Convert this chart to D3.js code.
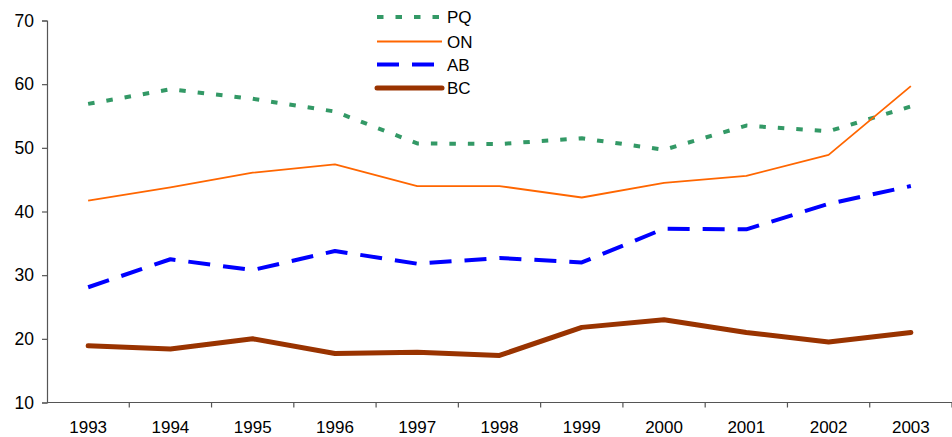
<!DOCTYPE html>
<html>
<head>
<meta charset="utf-8">
<script src="https://cdn.jsdelivr.net/npm/d3@7"></script>
<style>
  html, body { margin: 0; padding: 0; background: #fff; }
  svg { display: block; font-family: "Liberation Sans", Arial, sans-serif; }
</style>
</head>
<body>
<svg id="chart" width="952" height="437"></svg>
<script>
// Category labels and series values (percent)
const years = ["1993","1994","1995","1996","1997","1998","1999","2000","2001","2002","2003"];
const pq = [56.9, 59.2, 57.7, 55.7, 50.7, 50.6, 51.5, 49.7, 53.5, 52.6, 56.5];
const on = [41.7, 43.8, 46.1, 47.4, 44.0, 44.0, 42.2, 44.5, 45.6, 48.9, 59.7];
const ab = [28.1, 32.5, 30.8, 33.8, 31.8, 32.7, 32.0, 37.3, 37.2, 41.2, 44.0];
const bc = [18.9, 18.4, 20.0, 17.7, 17.9, 17.4, 21.8, 23.0, 21.0, 19.5, 21.0];
const yTicks = [10, 20, 30, 40, 50, 60, 70];

const seriesList = [
  { name: "PQ", values: pq, color: "#339966", width: 4, dash: "6.5,12", cap: "butt" },
  { name: "ON", values: on, color: "#FF6600", width: 1.8, dash: null, cap: "butt" },
  { name: "AB", values: ab, color: "#0000FF", width: 4, dash: "22,13", cap: "butt" },
  { name: "BC", values: bc, color: "#993300", width: 5, dash: null, cap: "round" }
];

(function drawChart() {
  const svg = d3.select("#chart");
  const plotLeft = 47, plotRight = 952, plotTop = 20.5, plotBottom = 402.5;
  const fontSize = 17;

  const x = d3.scaleBand().domain(years).range([plotLeft, plotRight]).paddingInner(0).paddingOuter(0);
  const y = d3.scaleLinear().domain([10, 70]).range([plotBottom, plotTop]);

  const axisColor = "#555";

  // Y axis
  const yAxis = svg.append("g")
    .attr("transform", `translate(${plotLeft},0)`)
    .call(d3.axisLeft(y).tickValues(yTicks).tickSize(5).tickPadding(8));
  yAxis.selectAll("path, line").attr("stroke", axisColor).attr("stroke-width", 1.2);
  yAxis.selectAll("text").attr("font-size", 17.5).attr("fill", "#000")
    .attr("font-family", "Liberation Sans, Arial, sans-serif");

  // X axis: ticks on the boundaries between categories
  const xAxisG = svg.append("g").attr("transform", `translate(0,${plotBottom})`);
  xAxisG.append("line").attr("x1", plotLeft).attr("x2", plotRight).attr("y1", 0).attr("y2", 0)
    .attr("stroke", axisColor).attr("stroke-width", 1.2);
  const boundaries = years.map(d => x(d)).concat([x(years[years.length - 1]) + x.bandwidth()]);
  xAxisG.selectAll("line.tick").data(boundaries.slice(1)).enter().append("line")
    .attr("class", "tick")
    .attr("x1", d => d).attr("x2", d => d).attr("y1", 0).attr("y2", 5)
    .attr("stroke", axisColor).attr("stroke-width", 1.2);
  xAxisG.selectAll("text").data(years).enter().append("text")
    .attr("x", d => x(d) + x.bandwidth() / 2)
    .attr("y", 30.5)
    .attr("text-anchor", "middle")
    .attr("font-size", fontSize)
    .attr("fill", "#000")
    .text(d => d);

  // Lines
  const line = d3.line()
    .x((d, i) => x(years[i]) + x.bandwidth() / 2)
    .y(d => y(d));

  seriesList.forEach(s => {
    svg.append("path")
      .datum(s.values)
      .attr("d", line)
      .attr("fill", "none")
      .attr("stroke", s.color)
      .attr("stroke-width", s.width)
      .attr("stroke-dasharray", s.dash)
      .attr("stroke-linecap", s.cap)
      .attr("stroke-linejoin", "round");
  });

  // Legend
  const legendY = [17, 41.5, 64.5, 88];
  const legend = svg.append("g");
  seriesList.forEach((s, i) => {
    legend.append("line")
      .attr("x1", 377).attr("x2", 442)
      .attr("y1", legendY[i]).attr("y2", legendY[i])
      .attr("stroke", s.color)
      .attr("stroke-width", s.width)
      .attr("stroke-dasharray", s.dash)
      .attr("stroke-linecap", s.cap);
    legend.append("text")
      .attr("x", 447).attr("y", legendY[i])
      .attr("dy", "0.36em")
      .attr("font-size", fontSize)
      .attr("fill", "#000")
      .text(s.name);
  });
})();
</script>
</body>
</html>
